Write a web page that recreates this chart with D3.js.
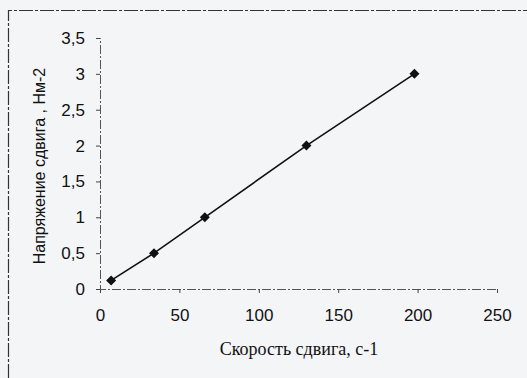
<!DOCTYPE html>
<html>
<head>
<meta charset="utf-8">
<script src="https://cdn.jsdelivr.net/npm/d3@7"></script>
<style>
  html, body { margin: 0; padding: 0; background: #f4f5f7; }
  svg { display: block; }
</style>
</head>
<body>
<svg id="chart" width="527" height="378"></svg>
<script>
const shearRate = [7, 34, 66, 130, 198];
const shearStress = [0.12, 0.5, 1, 2, 3];
const xTicks = [0, 50, 100, 150, 200, 250];
const yTicks = [0, 0.5, 1, 1.5, 2, 2.5, 3, 3.5];
const xTitle = "Скорость сдвига, с-1";
const yTitle = "Напряжение сдвига , Нм-2";

const svg = d3.select("#chart");
const W = 527, H = 378;

svg.append("rect").attr("width", W).attr("height", H).attr("fill", "#f4f5f7");

// outer frame
svg.append("path")
  .attr("d", `M8.5,${H} L8.5,10.5 L${W},10.5`)
  .attr("fill", "none").attr("stroke", "#333")
  .attr("stroke-width", 1.2).attr("stroke-dasharray", "14 2 3 2");

const x = d3.scaleLinear().domain([0, 250]).range([100, 497]);
const y = d3.scaleLinear().domain([0, 3.5]).range([289, 38]);

const fmt = d => String(d).replace(".", ",");

const xAxis = svg.append("g").attr("transform", "translate(0,289)")
  .call(d3.axisBottom(x).tickValues(xTicks).tickSize(4).tickPadding(16).tickFormat(fmt));
const yAxis = svg.append("g").attr("transform", "translate(100,0)")
  .call(d3.axisLeft(y).tickValues(yTicks).tickSize(4).tickPadding(11).tickFormat(fmt));

[xAxis, yAxis].forEach(g => {
  g.select(".domain").attr("stroke", "#555").attr("stroke-width", 1).attr("stroke-dasharray", "9 2 2 2");
  g.selectAll(".tick line").attr("stroke", "#444");
  g.selectAll(".tick text").attr("fill", "#111")
    .style("font-family", "'Liberation Sans', Arial, sans-serif").style("font-size", "17px");
});

const pts = shearRate.map((v, i) => [v, shearStress[i]]);

svg.append("path")
  .datum(pts)
  .attr("d", d3.line().x(d => x(d[0])).y(d => y(d[1])))
  .attr("fill", "none").attr("stroke", "#111").attr("stroke-width", 1.6);

svg.selectAll("path.pt").data(pts).enter().append("path")
  .attr("class", "pt")
  .attr("transform", d => `translate(${x(d[0])},${y(d[1])}) rotate(45)`)
  .attr("d", d3.symbol().type(d3.symbolSquare).size(50))
  .attr("fill", "#111");

svg.append("text")
  .attr("x", 299).attr("y", 355).attr("text-anchor", "middle")
  .style("font-family", "'Liberation Serif', 'Times New Roman', serif").style("font-size", "18px")
  .attr("fill", "#111").text(xTitle);

svg.append("text")
  .attr("transform", "translate(45,166) rotate(-90)")
  .attr("text-anchor", "middle")
  .style("font-family", "'Liberation Sans', Arial, sans-serif").style("font-size", "16px")
  .attr("fill", "#111").text(yTitle);
</script>
</body>
</html>
